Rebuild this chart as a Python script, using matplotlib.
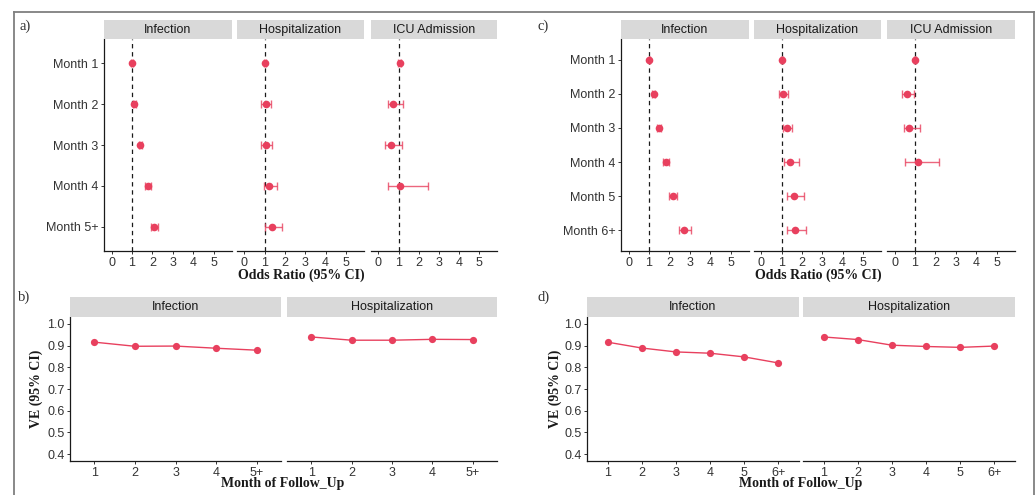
import matplotlib
matplotlib.use("Agg")
import matplotlib.pyplot as plt
from matplotlib.lines import Line2D

# ---------------- data ----------------
months_a = ["Month 1", "Month 2", "Month 3", "Month 4", "Month 5+"]
months_c = ["Month 1", "Month 2", "Month 3", "Month 4", "Month 5", "Month 6+"]
outcomes_or = ["Infection", "Hospitalization", "ICU Admission"]

# panel a: odds ratios (estimate, lower, upper)
a_inf_or = [1.01, 1.12, 1.40, 1.78, 2.09]
a_inf_lo = [0.97, 1.05, 1.32, 1.63, 1.91]
a_inf_hi = [1.05, 1.19, 1.48, 1.95, 2.29]
a_hos_or = [1.03, 1.04, 1.05, 1.22, 1.35]
a_hos_lo = [0.98, 0.83, 0.81, 0.94, 1.02]
a_hos_hi = [1.08, 1.30, 1.38, 1.60, 1.84]
a_icu_or = [1.05, 0.73, 0.61, 1.07]
a_icu_lo = [0.98, 0.49, 0.32, 0.50]
a_icu_hi = [1.12, 1.22, 1.17, 2.47]

# panel c
c_inf_or = [1.02, 1.23, 1.50, 1.83, 2.17, 2.74]
c_inf_lo = [0.98, 1.16, 1.41, 1.70, 1.98, 2.46]
c_inf_hi = [1.06, 1.30, 1.59, 1.96, 2.36, 3.07]
c_hos_or = [1.00, 1.05, 1.25, 1.41, 1.62, 1.66]
c_hos_lo = [0.95, 0.88, 1.08, 1.10, 1.25, 1.25]
c_hos_hi = [1.05, 1.30, 1.50, 1.84, 2.10, 2.21]
c_icu_or = [1.00, 0.63, 0.73, 1.16]
c_icu_lo = [0.93, 0.38, 0.44, 0.52]
c_icu_hi = [1.07, 0.97, 1.27, 2.19]

# panels b and d: vaccine effectiveness
ve_outcomes = ["Infection", "Hospitalization"]
b_months = ["1", "2", "3", "4", "5+"]
b_inf_ve = [0.916, 0.897, 0.898, 0.888, 0.879]
b_hos_ve = [0.940, 0.925, 0.925, 0.929, 0.928]
d_months = ["1", "2", "3", "4", "5", "6+"]
d_inf_ve = [0.916, 0.889, 0.871, 0.865, 0.848, 0.820]
d_hos_ve = [0.940, 0.928, 0.902, 0.896, 0.892, 0.898]
ve_ticks = [0.4, 0.5, 0.6, 0.7, 0.8, 0.9, 1.0]

# ---------------- style ----------------
W, H = 1036, 495
RED = "#E8405E"
TXT = "#333333"
plt.rcParams["font.family"] = ["Liberation Sans", "DejaVu Sans"]

fig = plt.figure(figsize=(W / 100, H / 100), dpi=100)
fig.patch.set_facecolor("white")


def add_ax(l, t, r, b):
    return fig.add_axes([l / W, 1 - b / H, (r - l) / W, (b - t) / H])


def strip(l, r, t, b, label):
    s = add_ax(l, t, r, b)
    s.set_facecolor("#D9D9D9")
    for sp in s.spines.values():
        sp.set_visible(False)
    s.set_xticks([]); s.set_yticks([])
    s.text(0.5, 0.48, label, ha="center", va="center", fontsize=9,
           color="#1A1A1A", transform=s.transAxes)


def style_ax(ax, left):
    for k in ["top", "right"]:
        ax.spines[k].set_visible(False)
    ax.spines["bottom"].set_color("#1A1A1A")
    ax.spines["bottom"].set_linewidth(0.9)
    if left:
        ax.spines["left"].set_color("#1A1A1A")
        ax.spines["left"].set_linewidth(0.9)
    else:
        ax.spines["left"].set_visible(False)
        ax.tick_params(axis="y", left=False, labelleft=False)
    ax.tick_params(colors="#333333", labelcolor=TXT, labelsize=9,
                   length=2.5, width=0.7, pad=1.5)


def forest(ax, labels, est, lo, hi, left):
    n_all = len(labels)
    ys = list(range(1, len(est) + 1))
    ax.axvline(1, color="#1A1A1A", linestyle=(0, (3.5, 3)), linewidth=0.9, zorder=1)
    xerr = [[e - l for e, l in zip(est, lo)], [h - e for e, h in zip(est, hi)]]
    ax.errorbar(est, ys, xerr=xerr, fmt="none", ecolor=RED, alpha=0.8,
                elinewidth=1.0, capsize=3, capthick=1.0, zorder=2)
    ax.plot(est, ys, "o", color=RED, markersize=5.5, zorder=3, markeredgewidth=0)
    ax.set_xlim(-0.37, 5.9)
    ax.set_xticks([0, 1, 2, 3, 4, 5])
    ax.set_ylim(n_all + 0.6, 0.4)
    ax.set_yticks(range(1, n_all + 1))
    ax.set_yticklabels(labels, fontsize=9, color="#222222")
    style_ax(ax, left)


def veplot(ax, labels, ve, left):
    xs = list(range(1, len(ve) + 1))
    ax.plot(xs, ve, "-", color=RED, linewidth=1.0, zorder=2)
    ax.plot(xs, ve, "o", color=RED, markersize=5.2, markeredgewidth=0, zorder=3)
    ax.set_xlim(0.4, len(labels) + 0.6)
    ax.set_xticks(xs)
    ax.set_xticklabels(labels)
    ax.set_ylim(0.368, 1.032)
    ax.set_yticks(ve_ticks)
    ax.set_yticklabels([f"{v:.1f}" for v in ve_ticks])
    style_ax(ax, left)


# ---------------- panel a ----------------
a_cols = [(104, 232), (237, 364), (371, 497)]
a_data = [(a_inf_or, a_inf_lo, a_inf_hi), (a_hos_or, a_hos_lo, a_hos_hi),
          (a_icu_or, a_icu_lo, a_icu_hi)]
for i, ((l, r), d) in enumerate(zip(a_cols, a_data)):
    ax = add_ax(l, 39, r, 251)
    forest(ax, months_a, *d, left=(i == 0))
    strip(l, r, 20, 39, outcomes_or[i])

# ---------------- panel c ----------------
c_cols = [(621, 749), (754, 881), (887, 1015)]
c_data = [(c_inf_or, c_inf_lo, c_inf_hi), (c_hos_or, c_hos_lo, c_hos_hi),
          (c_icu_or, c_icu_lo, c_icu_hi)]
for i, ((l, r), d) in enumerate(zip(c_cols, c_data)):
    ax = add_ax(l, 39, r, 251)
    forest(ax, months_c, *d, left=(i == 0))
    strip(l, r, 20, 39, outcomes_or[i])

# ---------------- panel b ----------------
b_cols = [(70, 281), (287, 497)]
for i, ((l, r), ve) in enumerate(zip(b_cols, [b_inf_ve, b_hos_ve])):
    ax = add_ax(l, 317, r, 461)
    veplot(ax, b_months, ve, left=(i == 0))
    strip(l, r, 297, 317, ve_outcomes[i])

# ---------------- panel d ----------------
d_cols = [(587, 799), (803, 1015)]
for i, ((l, r), ve) in enumerate(zip(d_cols, [d_inf_ve, d_hos_ve])):
    ax = add_ax(l, 317, r, 461)
    veplot(ax, d_months, ve, left=(i == 0))
    strip(l, r, 297, 317, ve_outcomes[i])

# ---------------- axis titles ----------------
title_kw = dict(fontsize=10, fontweight="bold", family=["Liberation Serif", "DejaVu Serif"],
                color="#1A1A1A", ha="center", va="center")
fig.text(301 / W, 1 - 275 / H, "Odds Ratio (95% CI)", **title_kw)
fig.text(818 / W, 1 - 275 / H, "Odds Ratio (95% CI)", **title_kw)
fig.text(283 / W, 1 - 484 / H, "Month of Follow_Up", **title_kw)
fig.text(801 / W, 1 - 484 / H, "Month of Follow_Up", **title_kw)
fig.text(36 / W, 1 - 389 / H, "VE (95% CI)", rotation=90, **title_kw)
fig.text(555 / W, 1 - 389 / H, "VE (95% CI)", rotation=90, **title_kw)

# ---------------- panel letters ----------------
lab_kw = dict(fontsize=10.5, family=["Liberation Serif", "DejaVu Serif"],
              color="#333333", ha="left", va="center")
fig.text(19 / W, 1 - 26 / H, "a)", **lab_kw)
fig.text(537 / W, 1 - 26 / H, "c)", **lab_kw)
fig.text(18 / W, 1 - 297 / H, "b)", **lab_kw)
fig.text(537 / W, 1 - 297 / H, "d)", **lab_kw)

# ---------------- frame ----------------
fc = "#7F7F7F"
fig.add_artist(Line2D([14 / W, 1034 / W], [1 - 12 / H, 1 - 12 / H], color=fc, linewidth=1.3,
                      transform=fig.transFigure))
fig.add_artist(Line2D([14 / W, 14 / W], [1 - 12 / H, 0], color=fc, linewidth=1.3,
                      transform=fig.transFigure))
fig.add_artist(Line2D([1034 / W, 1034 / W], [1 - 12 / H, 0], color=fc, linewidth=1.3,
                      transform=fig.transFigure))

fig.savefig("out.png", dpi=100)
